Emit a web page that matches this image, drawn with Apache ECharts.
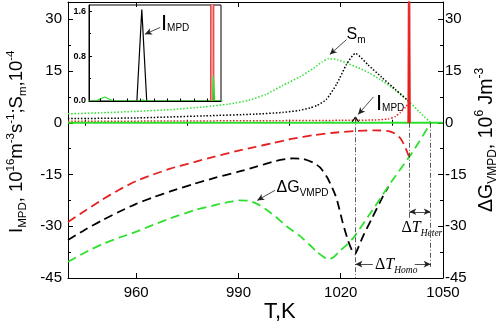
<!DOCTYPE html>
<html><head><meta charset="utf-8">
<script src="https://cdn.jsdelivr.net/npm/echarts@6/dist/echarts.min.js"></script>
<style>html,body{margin:0;padding:0;background:#fff}#c{width:500px;height:327px}</style>
</head><body><div id="c"></div>
<script>
// ---------- data ----------
const xRange = [940, 1050];
const xMajorTicks = [960, 990, 1020, 1050];
const xMinorTicks = [945, 975, 1005, 1035];
const yRange = [-45, 35];
const yMajorTicks = [-45, -30, -15, 0, 15, 30];
const yMinorTicks = [-37.5, -22.5, -7.5, 7.5, 22.5];
const insetXRange = [1012.5, 1042];
const insetXTicks = [1015, 1018, 1021, 1024, 1027, 1030, 1033, 1036, 1039];
const insetYRange = [0, 1.71];
const insetYMajor = [0, 0.8, 1.6];
const insetYMinor = [0.4, 1.2];

// ΔG_VMPD (10^6 J m^-3), dashed
const redDG = [[940,-28.8],[945,-25.5],[950,-22.3],[955,-19.4],[960,-16.9],[965,-15.0],[970,-13.3],[977,-11.4],[983,-9.8],[990,-8.1],[995,-7.0],[1000,-5.9],[1006,-4.6],[1012,-3.6],[1018,-2.9],[1024,-2.4],[1030,-2.2],[1034,-2.4],[1036,-3.2],[1037.5,-4.5],[1038.8,-6.8],[1039.7,-9.0],[1040.2,-10.3]];
const blackDG = [[940,-34.0],[945,-31.0],[950,-28.3],[955,-25.8],[960,-23.5],[965,-21.6],[970,-19.9],[977,-17.7],[983,-16.0],[990,-14.2],[995,-12.8],[1001,-11.1],[1006,-10.3],[1009,-10.5],[1012,-11.6],[1014,-13.0],[1016,-15.8],[1017.5,-18.8],[1018.8,-22.0],[1020.6,-29.0],[1022.1,-34.0],[1023.3,-37.0],[1024.2,-38.0],[1025,-36.5],[1026.5,-33.0],[1029,-28.0],[1032.3,-21.5],[1034,-18.5]];
const greenDG = [[940,-40.3],[945,-37.6],[950,-35.2],[955,-33.3],[960,-31.6],[965,-29.6],[970,-27.7],[977,-25.4],[983,-23.9],[987,-23.0],[990,-22.5],[993,-22.6],[996,-23.8],[999,-25.8],[1001,-27.3],[1004,-29.9],[1008,-32.8],[1011,-35.5],[1013,-37.4],[1015,-38.9],[1016.3,-39.6],[1018,-38.9],[1019.7,-37.2],[1022,-35.2],[1024,-33.0],[1030,-24.3],[1035,-16.9],[1040.3,-9.6],[1043,-5.5],[1046.4,0]];

// S_m (10^-4), dotted
const greenSm = [[940,2.6],[950,2.9],[960,3.3],[970,3.8],[980,4.6],[987,5.4],[993,6.5],[998,8.2],[1003,10.8],[1008,13.3],[1012,15.8],[1014.5,17.6],[1016.5,18.6],[1019,18.3],[1022,17.2],[1025,16.0],[1028,14.6],[1031.5,12.6],[1035,10.2],[1040.3,5.9],[1043,3.2],[1046.4,0]];
const blackSm = [[940,1.2],[960,1.4],[980,2.0],[995,2.5],[1003,3.0],[1008,3.6],[1011,4.3],[1013,5.0],[1015.8,6.8],[1018.8,11.2],[1021.7,16.9],[1024.3,20.1],[1028,16.8],[1032,13.2],[1036,9.7],[1040.3,5.9]];
const redSm = [[940,0.4],[970,0.5],[1000,0.6],[1020,0.7],[1030,0.8],[1034,1.1],[1036,1.8],[1037.5,3.0],[1039,4.5],[1040.1,5.8]];

// I_MPD (10^16 m^-3 s^-1), solid
const blackI = [[1023.2,0],[1024.3,1.63],[1025.4,0]];
const redI = [[1039.7,0],[1040.05,100],[1040.4,0]];
const greenI = [[940,0],[1014,0],[1016,0.07],[1018,0],[1024.0,0],[1024.6,0.02],[1025.2,0],[1040.1,0],[1040.3,0.45],[1040.6,0],[1050,0]];

// markers of the ΔT intervals
const tHomo = 1024.3, tHeter = 1040.1, tEnd = 1046.4;

// ---------- chart ----------
const RED = '#e62020', GREEN = '#2ee02e', BLACK = '#000';
const FONT = '"Liberation Sans", Arial, sans-serif';
const SERIF = '"Liberation Serif", "Times New Roman", serif';
const chart = echarts.init(document.getElementById('c'), null, {renderer: 'canvas'});

function tickAxis(extra) {
  return Object.assign({
    type: 'value', gridIndex: 0, splitLine: {show: false},
    axisLine: {show: true, onZero: false, lineStyle: {color: '#000', width: 1}},
    axisLabel: {show: false}, axisTick: {show: true, inside: true, length: 5, lineStyle: {color: '#000'}}
  }, extra);
}
const noLine = {show: false};
const plain = v => String(v);

const dashed = (c) => ({color: c, width: 1.8, type: [9, 5]});
const dotted = (c) => ({color: c, width: 1.5, type: [1.5, 1.8]});
const mainLine = (name, data, yi, style, extra) => Object.assign({
  type: 'line', name, data, xAxisIndex: 0, yAxisIndex: yi, showSymbol: false, symbol: 'none',
  lineStyle: style, smooth: 0.2, animation: false, silent: true, z: 2
}, extra || {});

const arrowLine = {color: '#222', width: 0.8, type: 'solid'};
const dashDot = {color: '#333', width: 0.8, type: [5, 2, 1, 2]};

const option = {
  animation: false,
  backgroundColor: '#fff',
  grid: [
    {left: 68, right: 57, top: 2, bottom: 49, show: false},
    {left: 89, top: 5, width: 132, height: 96, show: true, borderColor: '#000', borderWidth: 1, backgroundColor: '#fff'}
  ],
  xAxis: [
    tickAxis({position: 'bottom', min: xRange[0], max: xRange[1],
      axisTick: {show: true, inside: true, length: 5, customValues: xMajorTicks, lineStyle: {color: '#000'}},
      axisLabel: {show: true, customValues: xMajorTicks, fontSize: 15, fontFamily: FONT, color: '#000', margin: 7, formatter: plain}}),
    tickAxis({position: 'bottom', min: xRange[0], max: xRange[1], axisLine: noLine,
      axisTick: {show: true, inside: true, length: 3, customValues: xMinorTicks, lineStyle: {color: '#000'}}}),
    tickAxis({position: 'top', min: xRange[0], max: xRange[1],
      axisTick: {show: true, inside: true, length: 5, customValues: xMajorTicks, lineStyle: {color: '#000'}}}),
    tickAxis({position: 'top', min: xRange[0], max: xRange[1], axisLine: noLine,
      axisTick: {show: true, inside: true, length: 3, customValues: xMinorTicks, lineStyle: {color: '#000'}}}),
    tickAxis({gridIndex: 1, position: 'bottom', min: insetXRange[0], max: insetXRange[1], z: 5,
      axisTick: {show: true, inside: true, length: 2.5, customValues: insetXTicks, lineStyle: {color: '#000'}}})
  ],
  yAxis: [
    tickAxis({position: 'left', min: yRange[0], max: yRange[1],
      axisTick: {show: true, inside: true, length: 5, customValues: yMajorTicks, lineStyle: {color: '#000'}},
      axisLabel: {show: true, customValues: yMajorTicks, fontSize: 15, fontFamily: FONT, color: '#000', margin: 6, formatter: plain}}),
    tickAxis({position: 'right', min: yRange[0], max: yRange[1],
      axisTick: {show: true, inside: true, length: 5, customValues: yMajorTicks, lineStyle: {color: '#000'}},
      axisLabel: {show: true, customValues: yMajorTicks, fontSize: 15, fontFamily: FONT, color: '#000', margin: 2, formatter: plain}}),
    tickAxis({position: 'left', min: yRange[0], max: yRange[1], axisLine: noLine,
      axisTick: {show: true, inside: true, length: 3, customValues: yMinorTicks, lineStyle: {color: '#000'}}}),
    tickAxis({position: 'right', min: yRange[0], max: yRange[1], axisLine: noLine,
      axisTick: {show: true, inside: true, length: 3, customValues: yMinorTicks, lineStyle: {color: '#000'}}}),
    tickAxis({gridIndex: 1, position: 'left', min: insetYRange[0], max: insetYRange[1],
      axisTick: {show: true, inside: true, length: 3, customValues: insetYMajor, lineStyle: {color: '#000'}},
      axisLabel: {show: true, customValues: insetYMajor, fontSize: 9, fontWeight: 'bold', fontFamily: FONT, color: '#000', margin: 3,
        formatter: v => v.toFixed(1)}}),
    tickAxis({gridIndex: 1, position: 'left', min: insetYRange[0], max: insetYRange[1], axisLine: noLine,
      axisTick: {show: true, inside: true, length: 2, customValues: insetYMinor, lineStyle: {color: '#000'}}})
  ],
  series: [
    mainLine('ΔG red', redDG, 1, dashed(RED)),
    mainLine('ΔG black', blackDG, 1, dashed(BLACK), {
      markLine: {silent: true, animation: false, symbol: 'none', label: {show: false}, lineStyle: dashDot,
        emphasis: {disabled: true},
        data: [
          [{coord: [tHomo, 1.6]}, {coord: [tHomo, -45]}],
          [{coord: [tHeter, 0]}, {coord: [tHeter, -27.6]}],
          [{coord: [tEnd, 0]}, {coord: [tEnd, -41.8]}]
        ]}
    }),
    mainLine('ΔG green', greenDG, 1, dashed(GREEN), {
      markLine: {silent: true, animation: false, symbolSize: [5, 7], label: {show: false}, lineStyle: arrowLine,
        emphasis: {disabled: true},
        data: [
          [{coord: [tHeter, -25.8], symbol: 'arrow'}, {coord: [tEnd, -25.8], symbol: 'arrow'}],
          [{coord: [tHomo, -41], symbol: 'arrow'}, {coord: [1029.4, -41], symbol: 'none'}],
          [{coord: [1041.7, -41], symbol: 'none'}, {coord: [tEnd, -41], symbol: 'arrow'}],
          [{coord: [1021.7, 24.1], symbol: 'none'}, {coord: [1016.8, 19.8], symbol: 'arrow'}],
          [{coord: [1029.6, 7.5], symbol: 'none'}, {coord: [1025.1, 2.4], symbol: 'arrow'}],
          [{coord: [1000.7, -19.6], symbol: 'none'}, {coord: [995.5, -22.5], symbol: 'arrow'}]
        ]}
    }),
    mainLine('Sm green', greenSm, 0, dotted(GREEN)),
    mainLine('Sm black', blackSm, 0, dotted(BLACK)),
    mainLine('Sm red', redSm, 0, dotted(RED)),
    mainLine('I black', blackI, 0, {color: BLACK, width: 1.2}, {smooth: false, z: 3}),
    mainLine('I green', greenI, 0, {color: GREEN, width: 2.2}, {smooth: false, z: 4}),
    mainLine('I red', redI, 0, {color: RED, width: 1}, {smooth: false, z: 5, areaStyle: {color: RED, opacity: 1}}),
    // inset
    {type: 'line', data: greenI, xAxisIndex: 4, yAxisIndex: 4, showSymbol: false, symbol: 'none', smooth: false,
      lineStyle: {color: GREEN, width: 1.2}, silent: true, z: 3},
    {type: 'line', data: blackI, xAxisIndex: 4, yAxisIndex: 4, showSymbol: false, symbol: 'none', smooth: false,
      lineStyle: {color: BLACK, width: 1.2}, silent: true, z: 2,
      markLine: {silent: true, animation: false, symbolSize: [5, 7], label: {show: false}, lineStyle: arrowLine,
        emphasis: {disabled: true},
        data: [[{coord: [1028.4, 1.31], symbol: 'none'}, {coord: [1025.0, 1.19], symbol: 'arrow'}]]}},
    {type: 'line', data: redI, xAxisIndex: 4, yAxisIndex: 4, showSymbol: false, symbol: 'none', smooth: false,
      lineStyle: {color: RED, width: 1}, areaStyle: {color: '#f4a0a0', opacity: 1}, silent: true, z: 2}
  ]
};
chart.setOption(option);

// ---------- text (titles and annotations) ----------
const mc = document.createElement('canvas').getContext('2d');
function fontCss(p) { return (p.st || 'normal') + ' ' + (p.w || 'normal') + ' ' + p.s + 'px ' + (p.f || FONT); }
function textGroup(parts, x, y, rotation) {
  let cx = 0; const children = [];
  for (const p of parts) {
    mc.font = fontCss(p);
    const w = mc.measureText(p.t).width;
    children.push({type: 'text', x: cx, y: (p.d || 0) - 0.35 * p.s, silent: true,
      style: {text: p.t, fontSize: p.s, fontFamily: p.f || FONT, fontStyle: p.st || 'normal', fontWeight: p.w || 'normal',
        fill: '#000', verticalAlign: 'middle', align: 'left'}});
    cx += w;
  }
  return {type: 'group', x, y, rotation: rotation || 0, silent: true, children};
}
const graphics = [
  // left axis title
  textGroup([{t: 'I', s: 18.5}, {t: 'MPD', s: 11.5, d: 4}, {t: ', 10', s: 18.5}, {t: '16', s: 11.5, d: -8.5}, {t: 'm', s: 18.5},
    {t: '-3', s: 11.5, d: -8.5}, {t: 's', s: 18.5}, {t: '-1', s: 11.5, d: -8.5}, {t: ';S', s: 18.5}, {t: 'm', s: 11.5, d: 4},
    {t: ',10', s: 18.5}, {t: '-4', s: 11.5, d: -8.5}], 23, 233, Math.PI / 2),
  // right axis title
  textGroup([{t: 'ΔG', s: 19.5}, {t: 'VMPD', s: 12, d: 4}, {t: ', 10', s: 19.5}, {t: '6', s: 12, d: -9}, {t: ' Jm', s: 19.5},
    {t: '-3', s: 12, d: -9}], 493, 212, Math.PI / 2),
  // x axis title
  textGroup([{t: 'T,K', s: 22}], 264, 320),
  // annotations
  textGroup([{t: 'S', s: 16}, {t: 'm', s: 10, d: 4}], 346.5, 40),
  textGroup([{t: 'I', s: 22}, {t: 'MPD', s: 10}], 376, 111.7),
  textGroup([{t: 'I', s: 22}, {t: 'MPD', s: 10}], 161, 31.5),
  textGroup([{t: 'ΔG', s: 16}, {t: 'VMPD', s: 10, d: 4}], 276.5, 193),
  textGroup([{t: 'Δ', s: 16, f: SERIF}, {t: 'T', s: 16, f: SERIF, st: 'italic'}, {t: 'Heter', s: 9.5, f: SERIF, st: 'italic', d: 4}], 401.5, 233),
  textGroup([{t: 'Δ', s: 16, f: SERIF}, {t: 'T', s: 16, f: SERIF, st: 'italic'}, {t: 'Homo', s: 9.5, f: SERIF, st: 'italic', d: 3.5}], 375, 270)
];
chart.setOption({graphic: graphics});
</script>
</body></html>
